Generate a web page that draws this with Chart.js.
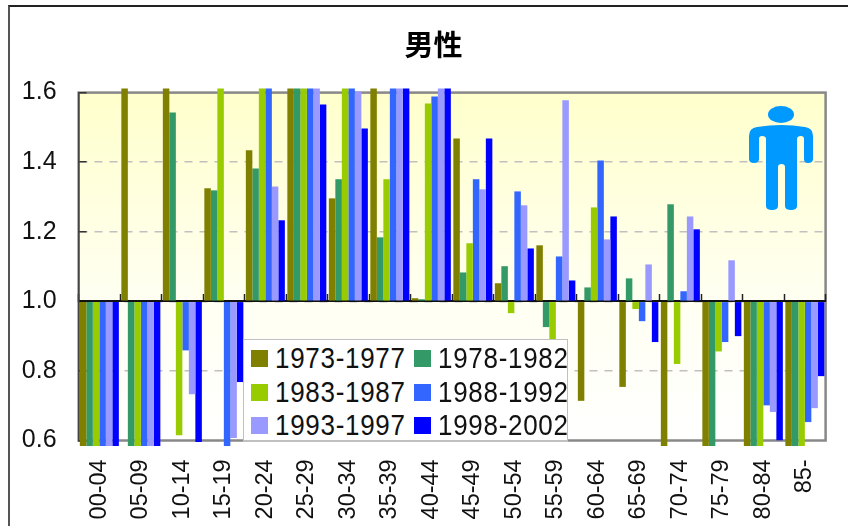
<!DOCTYPE html>
<html>
<head>
<meta charset="utf-8">
<script src="https://cdn.jsdelivr.net/npm/chart.js@4"></script>
<style>
    html, body { margin: 0; padding: 0; background: #fff; overflow: hidden; }
    #wrap { position: relative; width: 848px; height: 526px; overflow: hidden; }
    #chart { position: absolute; left: 0; top: 0; }
    #frame { position: absolute; left: 8px; top: 5px; width: 900px; height: 600px; border: 2px solid #222; border-left-color: #555; }
    #person { position: absolute; left: 745px; top: 100px; }
    #legend {
        position: absolute; left: 243px; top: 339px; width: 323px; height: 100px;
        background: #fff; border: 1px solid #c0c0c0; border-bottom-width: 2px;
        font: 26px "Liberation Sans", Arial, sans-serif; color: #111; letter-spacing: 0.7px;
    }
    #legend .item { position: absolute; white-space: nowrap; line-height: 30px; }
    #legend i { position: absolute; left: 0; top: 6px; width: 17px; height: 17px; }
    #legend span { position: absolute; left: 24px; top: -1px; transform: scaleY(1.1); }
</style>
</head>
<body>
<div id="wrap">
    <div id="frame"></div>
    <canvas id="chart" width="848" height="526"></canvas>
    <svg id="person" width="72" height="114" viewBox="745 100 72 114">
        <ellipse cx="781" cy="114.5" rx="13" ry="8.5" fill="#0099ff"/>
        <path fill="#0099ff" d="M749 136 Q749 128 757 127 Q770 125 781 125 Q793 125 805 127 Q813 128 813 136 L813 159 Q813 163 808 163 Q804 163 804 159 L804 139 Q804 136 801 136 Q797 136 797 139 L797 206 Q797 210 791 210 Q785 210 785 206 L785 167 Q785 164 781.5 164 Q778 164 778 167 L778 206 Q778 210 772 210 Q766 210 766 206 L766 139 Q766 136 762 136 Q759 136 759 139 L759 159 Q759 163 754 163 Q749 163 749 159 Z"/>
    </svg>
    <div id="legend"></div>
</div>
<script>
    const categories = ["00-04", "05-09", "10-14", "15-19", "20-24", "25-29", "30-34", "35-39", "40-44",
        "45-49", "50-54", "55-59", "60-64", "65-69", "70-74", "75-79", "80-84", "85-"];
    const yTicks = [0.6, 0.8, 1.0, 1.2, 1.4, 1.6];

    const p1973 = [0.584, 1.612, 1.612, 1.325, 1.434, 1.612, 1.296, 1.612, 1.009, 1.468, 1.052, 1.161, 0.714, 0.754, 0.584, 0.584, 0.584, 0.584];
    const p1978 = [0.584, 0.584, 1.543, 1.319, 1.382, 1.612, 1.351, 1.184, 1.006, 1.083, 1.101, 0.926, 1.040, 1.066, 1.279, 0.584, 0.584, 0.584];
    const p1983 = [0.584, 0.584, 0.615, 1.612, 1.612, 1.612, 1.612, 1.351, 1.569, 1.167, 0.966, 0.850, 1.270, 0.978, 0.820, 0.856, 0.584, 0.584];
    const p1988 = [0.584, 0.584, 0.859, 0.584, 1.612, 1.612, 1.612, 1.612, 1.589, 1.351, 1.316, 1.129, 1.405, 0.943, 1.029, 0.883, 0.701, 0.653];
    const p1993 = [0.584, 0.584, 0.733, 0.607, 1.330, 1.612, 1.603, 1.612, 1.612, 1.322, 1.276, 1.578, 1.178, 1.106, 1.244, 1.118, 0.682, 0.693];
    const p1998 = [0.584, 0.584, 0.596, 0.768, 1.233, 1.566, 1.497, 1.612, 1.612, 1.468, 1.152, 1.060, 1.244, 0.883, 1.207, 0.900, 0.601, 0.785];

    const seriesNames = ["1973-1977", "1978-1982", "1983-1987", "1988-1992", "1993-1997", "1998-2002"];
    const seriesColors = ["#808000", "#339966", "#99cc00", "#3366ff", "#9999ff", "#0000ff"];
    const seriesValues = [p1973, p1978, p1983, p1988, p1993, p1998];

    const fontFamily = '"Liberation Sans", Arial, sans-serif';

    // gradient and grey frame of the plot area, under the grid
    const plotBackground = {
        id: 'plotBackground',
        afterLayout(chart) {
            // title sits over the outer frame, not over the plot
            chart.titleBlock.left += 13;
            chart.titleBlock.right += 13;
        },
        beforeDraw(chart) {
            const { ctx, chartArea: a } = chart;
            let g = ctx.createLinearGradient(0, a.top, 0, a.bottom);
            g.addColorStop(0, '#ffffcc');
            g.addColorStop(0.6, '#fffff2');
            g.addColorStop(1, '#ffffff');
            ctx.save();
            ctx.fillStyle = g;
            ctx.fillRect(a.left, a.top, a.width, a.height);
            ctx.strokeStyle = '#888888';
            ctx.lineWidth = 2.5;
            ctx.strokeRect(a.left, a.top, a.width, a.height);
            ctx.restore();
        }
    };

    let datasets = seriesNames.map((name, i) => ({
        label: name,
        data: seriesValues[i],
        backgroundColor: seriesColors[i],
        base: 1,
        clip: false,
        categoryPercentage: 0.94,
        barPercentage: 1
    }));

    let ctx = document.getElementById("chart").getContext("2d");
    new Chart(ctx, {
        type: 'bar',
        data: { labels: categories, datasets: datasets },
        plugins: [plotBackground],
        options: {
            responsive: false,
            animation: false,
            layout: { autoPadding: false, padding: { left: 15.6, right: 22.4, top: 0, bottom: 85.5 } },
            plugins: {
                legend: { display: false },
                tooltip: { enabled: false },
                title: {
                    display: true,
                    text: '男性',
                    color: '#000',
                    font: { family: '"Noto Sans CJK JP"', size: 29, weight: 'bold' },
                    padding: { top: 28, bottom: 29.8 }
                }
            },
            scales: {
                x: {
                    position: { y: 1 },
                    afterFit(scale) {
                        // the big tick padding otherwise eats into the plot width
                        scale.paddingLeft = 0;
                        scale.paddingRight = 0;
                    },
                    grid: { drawOnChartArea: false, tickLength: -8, tickColor: '#222', tickWidth: 1.5 },
                    border: { color: '#111', width: 2 },
                    ticks: {
                        autoSkip: false,
                        minRotation: 90,
                        maxRotation: 90,
                        padding: 166,
                        color: '#111',
                        font: { family: fontFamily, size: 23.5 }
                    }
                },
                y: {
                    min: 0.6,
                    max: 1.6,
                    afterBuildTicks(scale) {
                        scale.ticks = yTicks.map(v => ({ value: v }));
                    },
                    afterFit(scale) {
                        scale.width = 63;
                    },
                    grid: {
                        color: c => (c.index === 0 || c.index === yTicks.length - 1) ? 'rgba(0,0,0,0)' : '#c0c0c0',
                        lineWidth: 1.5,
                        tickLength: -8,
                        tickColor: '#333',
                        tickWidth: 1.5
                    },
                    border: { color: '#444', width: 1.5, dash: [8, 7] },
                    ticks: {
                        padding: 30,
                        color: '#111',
                        font: { family: fontFamily, size: 25 },
                        callback: v => v.toFixed(1)
                    }
                }
            }
        }
    });

    // legend box, two columns, built from the same series lists
    const legendBox = document.getElementById("legend");
    seriesNames.forEach((name, i) => {
        let item = document.createElement("div");
        item.className = "item";
        item.style.left = (i % 2 ? 170 : 7) + "px";
        item.style.top = (4 + Math.floor(i / 2) * 33.5) + "px";
        item.innerHTML = '<i style="background:' + seriesColors[i] + '"></i><span>' + name + '</span>';
        legendBox.appendChild(item);
    });
</script>
</body>
</html>
